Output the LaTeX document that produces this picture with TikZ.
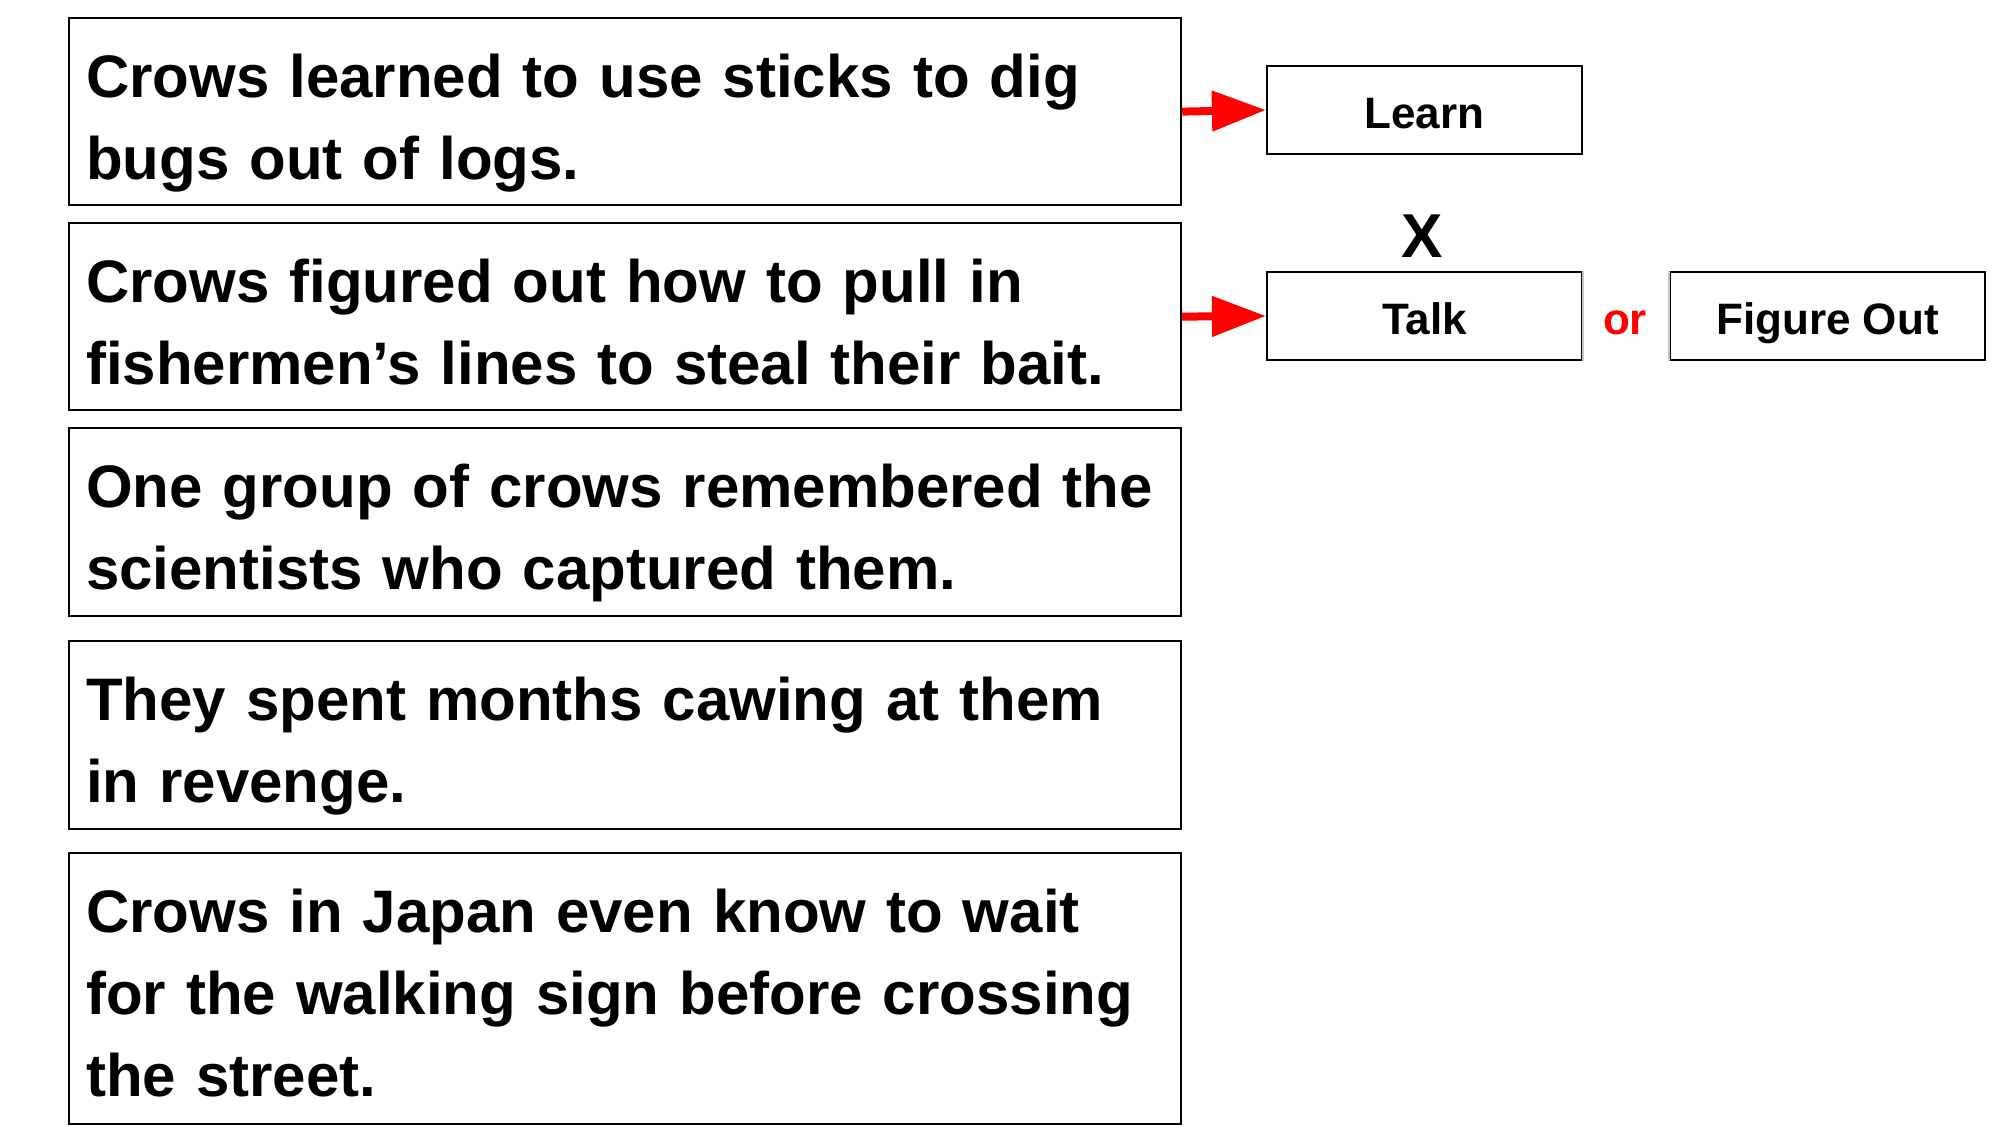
\documentclass[tikz,border=0pt]{standalone}
\usepackage{fontspec}
\setmainfont{Liberation Sans}
\usetikzlibrary{arrows.meta}
\definecolor{arrowred}{RGB}{255,0,0}
\definecolor{softedge}{RGB}{200,200,200}
\begin{document}
\begin{tikzpicture}[x=1pt,y=-1pt,
  card/.style={draw=black, line width=2.2pt, rectangle, inner sep=0pt,
    anchor=north west, minimum width=1112pt},
  cardtext/.style={anchor=base west, inner sep=0pt, align=left, text width=1100pt,
    font=\bfseries\fontsize{60}{82}\selectfont},
  wordbox/.style={draw=black, line width=2.2pt, rectangle, inner sep=0pt,
    minimum width=315pt, minimum height=88pt,
    text height=36pt, text depth=0pt,
    font=\bfseries\fontsize{44}{50}\selectfont},
  redarrow/.style={draw=arrowred, line width=8pt, -{Triangle[length=54pt, width=39pt]}}
]
\useasboundingbox (0,0) rectangle (2000,1125);
\fill[white] (0,0) rectangle (2000,1125);

% sentence cards on the left
\node[card, minimum height=187pt] (b1) at (68,17) {};
\node[card, minimum height=187pt] (b2) at (68,222) {};
\node[card, minimum height=188pt] (b3) at (68,427) {};
\node[card, minimum height=188pt] (b4) at (68,640) {};
\node[card, minimum height=271pt] (b5) at (68,852) {};

\node[cardtext] (t1) at (86,97)  {Crows learned to use sticks to dig\\bugs out of logs.};
\node[cardtext] (t2) at (86,302) {Crows figured out how to pull in\\fishermen’s lines to steal their bait.};
\node[cardtext] (t3) at (86,507) {One group of crows remembered the\\scientists who captured them.};
\node[cardtext] (t4) at (86,720) {They spent months cawing at them\\in revenge.};
\node[cardtext] (t5) at (86,932) {Crows in Japan even know to wait\\for the walking sign before crossing\\the street.};

% word boxes on the right
\node[wordbox] (learn)  at (1424.5,110) {Learn};
\node[wordbox] (talk)   at (1424.5,316) {Talk};
\node[wordbox] (figout) at (1827.5,316) {Figure Out};
\draw[softedge, line width=2.2pt] (talk.north east) -- (talk.south east);
\draw[softedge, line width=2.2pt] (figout.north west) -- (figout.south west);

\node[anchor=base, inner sep=0pt, font=\bfseries\fontsize{62}{70}\selectfont] (xmark) at (1422,257) {X};
\node[inner sep=0pt, text height=36pt, text depth=0pt, text=arrowred,
  font=\bfseries\fontsize{44}{50}\selectfont] (or) at (1625,316) {or};

% connectors
\draw[redarrow] (b1.east) -- (learn.west);
\draw[redarrow] (b2.east) -- (talk.west);
\end{tikzpicture}
\end{document}
